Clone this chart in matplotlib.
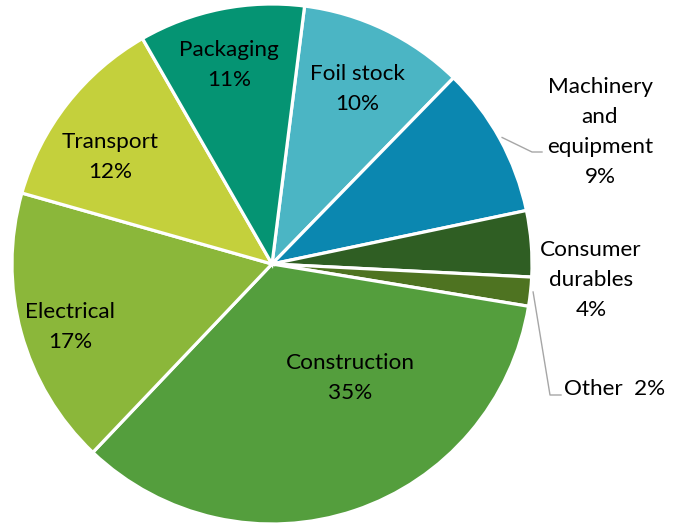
import numpy as np
import matplotlib.pyplot as plt

# -------- DATA (shares, clockwise from top) --------
categories = ["Foil stock", "Machinery\nand\nequipment", "Consumer\ndurables", "Other",
              "Construction", "Electrical", "Transport", "Packaging"]
shares = [10.3, 9.4, 4.1, 1.8, 34.5, 17.3, 12.3, 10.3]
pct_labels = ["10%", "9%", "4%", "2%", "35%", "17%", "12%", "11%"]

colors = ["#4BB5C4", "#0B87B0", "#2F5E23", "#4E7321",
          "#549E3D", "#8BB73A", "#C4D03C", "#059473"]

plt.rcParams['font.family'] = ['Lato', 'DejaVu Sans']

fig = plt.figure(figsize=(6.74, 5.27), dpi=100)
ax = fig.add_axes([0, 0, 1, 1])

wedges, _ = ax.pie(shares, colors=colors, startangle=82.8, counterclock=False,
                   radius=1.0, wedgeprops=dict(edgecolor="white", linewidth=2.3))

ax.set_xlim(-272 / 260, (674 - 272) / 260)
ax.set_ylim((264 - 527) / 260, 264 / 260)
ax.set_aspect("equal", adjustable="box")
ax.axis("off")


def px(x, y):
    # pixel position in the picture -> data coords (small downward nudge for text)
    return (x - 272) / 260, (264 - y) / 260


FS = 16.2
LS = 1.62
DY = 3  # text sits a little lower than the block centre
# inside labels
inside = {0: (357, 86), 4: (350, 375), 5: (70, 324), 6: (110, 154), 7: (229, 62)}
for i, (x, y) in inside.items():
    ax.text(*px(x, y + DY), categories[i] + "\n" + pct_labels[i], ha="center", va="center",
            fontsize=FS, linespacing=LS, color="black")

# outside labels with leader lines
def mid_point(w, r):
    t = np.deg2rad((w.theta1 + w.theta2) / 2)
    return r * np.cos(t), r * np.sin(t)

ax.text(*px(600, 129 + DY), categories[1] + "\n" + pct_labels[1], ha="center", va="center",
        fontsize=FS, linespacing=LS, color="black")
x0, y0 = mid_point(wedges[1], 1.01)
x1, y1 = px(532, 152)
x2, y2 = px(542, 152)
ax.plot([x0, x1, x2], [y0, y1, y2], color="#A6A6A6", lw=1.0, clip_on=False)

ax.text(*px(591, 277 + DY), categories[2] + "\n" + pct_labels[2], ha="center", va="center",
        fontsize=FS, linespacing=LS, color="black")

ax.text(*px(564, 386 + DY), categories[3] + "  " + pct_labels[3], ha="left", va="center",
        fontsize=FS, color="black")
x0, y0 = mid_point(wedges[3], 1.01)
x1, y1 = px(550, 395)
x2, y2 = px(561, 395)
ax.plot([x0, x1, x2], [y0, y1, y2], color="#A6A6A6", lw=1.0, clip_on=False)

fig.savefig("out.png", dpi=100)
